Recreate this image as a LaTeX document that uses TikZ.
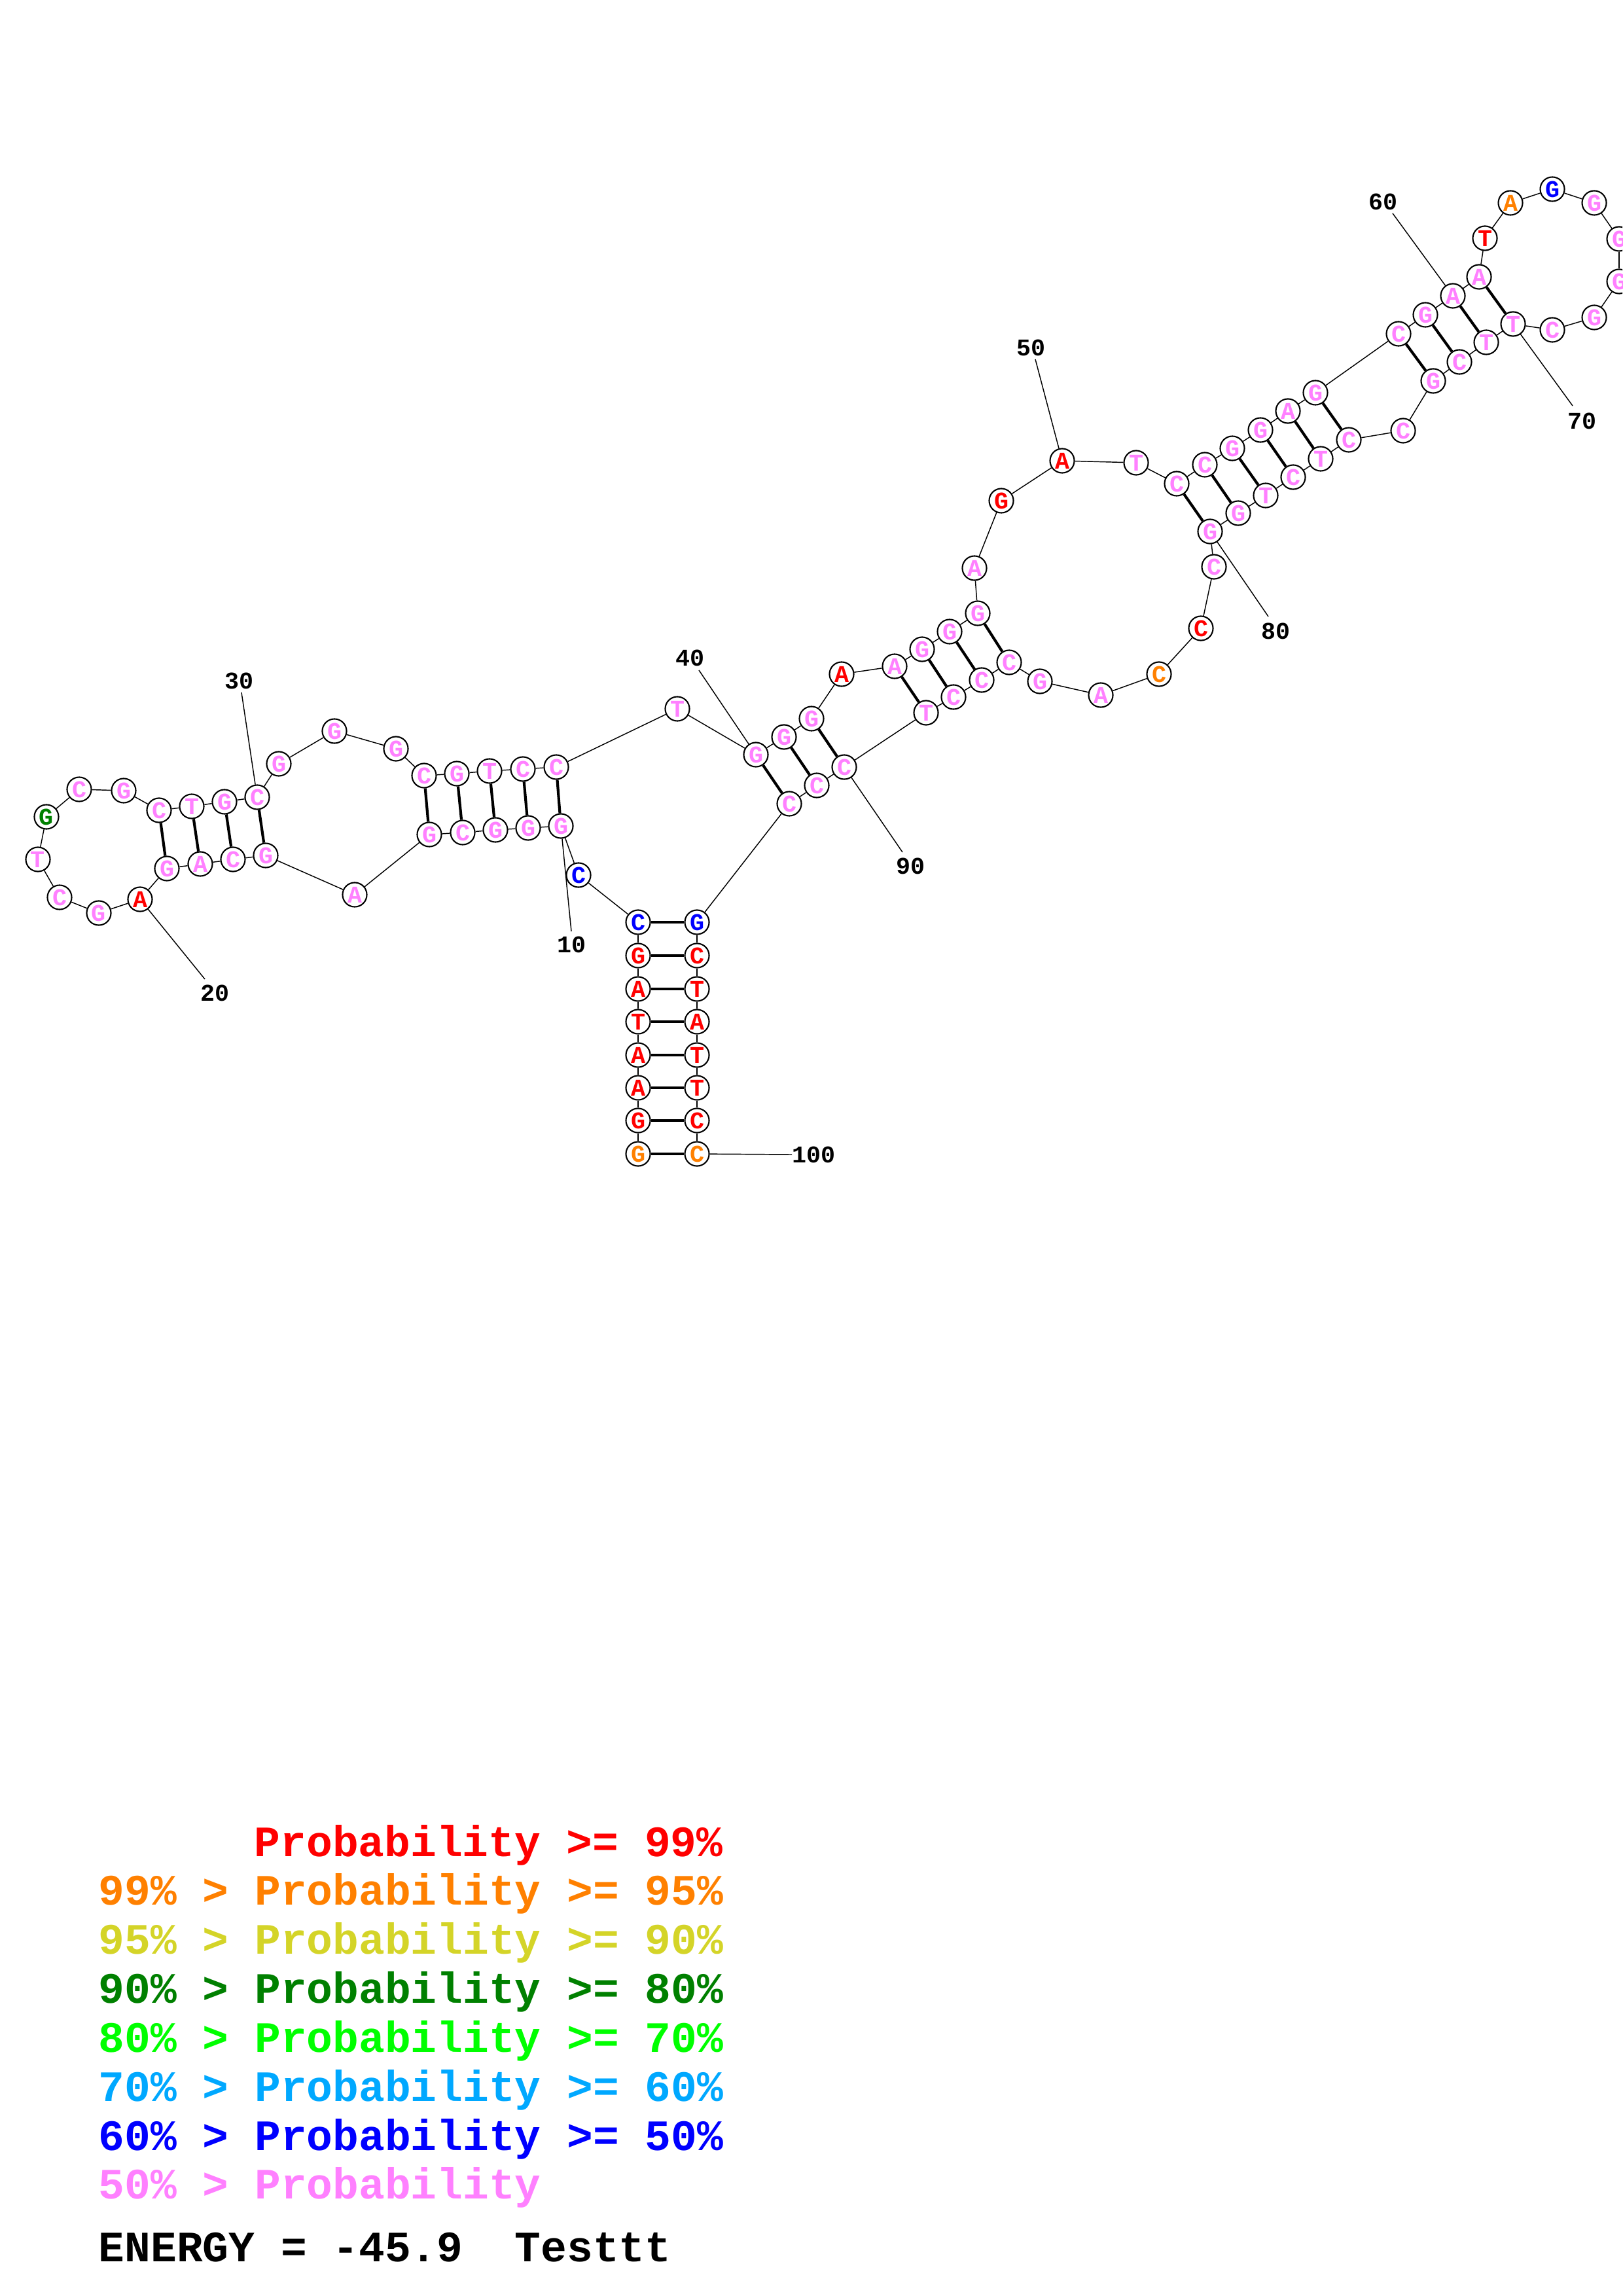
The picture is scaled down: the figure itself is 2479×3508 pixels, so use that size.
\documentclass[tikz,border=0pt]{standalone}
\usepackage{fontspec}
\newfontfamily\mono{Liberation Mono}
\definecolor{pk}{RGB}{255,128,255}
\definecolor{rd}{RGB}{255,0,0}
\definecolor{org}{RGB}{255,128,0}
\definecolor{yl}{RGB}{212,212,40}
\definecolor{dg}{RGB}{0,128,0}
\definecolor{lg}{RGB}{0,255,0}
\definecolor{lb}{RGB}{0,168,255}
\definecolor{bl}{RGB}{0,0,255}
\tikzset{
  nt/.style={circle, draw=black, line width=0.5pt, fill=white, minimum size=8.9pt, inner sep=0pt,
    font=\mono\bfseries\fontsize{8.8}{8.8}\selectfont, text=pk},
  bb/.style={line width=0.35pt},
  bp/.style={line width=1.0pt},
  lbl/.style={font=\mono\bfseries\fontsize{8.8}{9}\selectfont, inner sep=0pt},
  leg/.style={font=\mono\bfseries\fontsize{15.9}{16}\selectfont, inner sep=0pt, anchor=base west},
}
\begin{document}
\begin{tikzpicture}[x=0.24pt,y=-0.24pt]
\useasboundingbox (0,0) rectangle (2479,3508);
\clip (0,0) rectangle (2479,3508);
\foreach \i/\x/\y/\b/\c in {
1/975/1763/G/org, 2/975/1712/G/rd, 3/975/1662/A/rd, 4/975/1612/A/rd, 5/975/1561/T/rd,
6/975/1511/A/rd, 7/975/1460/G/rd, 8/975/1409/C/bl, 9/884/1337/C/bl, 10/857/1262/G/pk,
11/807/1265/G/pk, 12/757/1268/G/pk, 13/707/1272/C/pk, 14/656/1275/G/pk, 15/542/1367/A/pk,
16/406/1307/G/pk, 17/356/1313/C/pk, 18/306/1320/A/pk, 19/255/1327/G/pk, 20/214/1374/A/rd,
21/151/1395/G/pk, 22/91/1371/C/pk, 23/58/1313/T/pk, 24/71/1248/G/dg, 25/121/1206/C/pk,
26/189/1208/G/pk, 27/243/1238/C/pk, 28/293/1232/T/pk, 29/343/1225/G/pk, 30/393/1218/C/pk,
31/426/1167/G/pk, 32/511/1117/G/pk, 33/605/1144/G/pk, 34/648/1185/C/pk, 35/698/1182/G/pk,
36/748/1178/T/pk, 37/799/1175/C/pk, 38/850/1172/C/pk, 39/1035/1083/T/pk, 40/1155/1153/G/pk,
41/1198/1126/G/pk, 42/1240/1098/G/pk, 43/1286/1030/A/rd, 44/1367/1018/A/pk, 45/1409/992/G/pk,
46/1451/965/G/pk, 47/1494/937/G/pk, 48/1489/868/A/pk, 49/1530/765/G/rd, 50/1623/704/A/rd,
51/1736/707/T/pk, 52/1798/739/C/pk, 53/1841/710/C/pk, 54/1883/685/G/pk, 55/1926/657/G/pk,
56/1968/628/A/pk, 57/2010/600/G/pk, 58/2137/510/C/pk, 59/2178/481/G/pk, 60/2220/452/A/pk,
61/2260/423/A/pk, 62/2269/364/T/rd, 63/2308/310/A/org, 64/2372/289/G/bl, 65/2436/310/G/pk,
66/2474/365/G/pk, 67/2474/430/G/pk, 68/2436/485/G/pk, 69/2372/504/C/pk, 70/2312/495/T/pk,
71/2271/523/T/pk, 72/2230/553/C/pk, 73/2190/582/G/pk, 74/2144/658/C/pk, 75/2061/672/C/pk,
76/2018/701/T/pk, 77/1976/729/C/pk, 78/1934/757/T/pk, 79/1892/784/G/pk, 80/1849/812/G/pk,
81/1855/866/C/pk, 82/1835/960/C/rd, 83/1771/1030/C/org, 84/1682/1062/A/pk, 85/1589/1041/G/pk,
86/1542/1012/C/pk, 87/1500/1039/C/pk, 88/1457/1065/C/pk, 89/1415/1089/T/pk, 90/1290/1172/C/pk,
91/1248/1200/C/pk, 92/1206/1228/C/pk, 93/1065/1409/G/bl, 94/1065/1460/C/rd, 95/1065/1511/T/rd,
96/1065/1561/A/rd, 97/1065/1612/T/rd, 98/1065/1662/T/rd, 99/1065/1712/C/rd, 100/1065/1763/C/org}
  \node[nt, text=\c] (n\i) at (\x,\y) {\b};
\foreach \i in {1,...,99} {
  \pgfmathtruncatemacro\j{\i+1}
  \draw[bb] (n\i) -- (n\j);
}
\foreach \a/\b in {1/100,2/99,3/98,4/97,5/96,6/95,7/94,8/93,
  10/38,11/37,12/36,13/35,14/34, 16/30,17/29,18/28,19/27,
  40/92,41/91,42/90, 44/89,45/88,46/87,47/86,
  52/80,53/79,54/78,55/77,56/76,57/75, 58/73,59/72,60/71,61/70}
  \draw[bp] (n\a) -- (n\b);
\foreach \i/\tx/\ty/\ex/\ey in {10/873/1443/873/1423, 20/328/1517/313/1496, 30/365/1040/369/1058,
  40/1054/1005/1068/1024, 50/1575/531/1582/549, 60/2113/308/2128/326, 70/2417/643/2403/620,
  80/1949/964/1938/942, 90/1391/1323/1379/1302}
{
  \node[lbl] (t\i) at (\tx,\ty) {\i};
  \coordinate (e\i) at (\ex,\ey);
  \draw[bb] (e\i) -- (n\i);
}
\node[lbl, anchor=west] (t100) at (1210,1764) {100};
\draw[bb] (n100) -- (t100.west);
% legend
\node[leg, text=rd]  (g1) at (388,2836) {Probability >= 99\%};
\node[leg, text=org] (g2) at (150,2910) {99\% > Probability >= 95\%};
\node[leg, text=yl]  (g3) at (150,2985) {95\% > Probability >= 90\%};
\node[leg, text=dg]  (g4) at (150,3060) {90\% > Probability >= 80\%};
\node[leg, text=lg]  (g5) at (150,3135) {80\% > Probability >= 70\%};
\node[leg, text=lb]  (g6) at (150,3210) {70\% > Probability >= 60\%};
\node[leg, text=bl]  (g7) at (150,3285) {60\% > Probability >= 50\%};
\node[leg, text=pk]  (g8) at (150,3359) {50\% > Probability};
\node[leg, text=black] (g9) at (150,3455) {ENERGY = -45.9\ \ Testtt};
\end{tikzpicture}
\end{document}
